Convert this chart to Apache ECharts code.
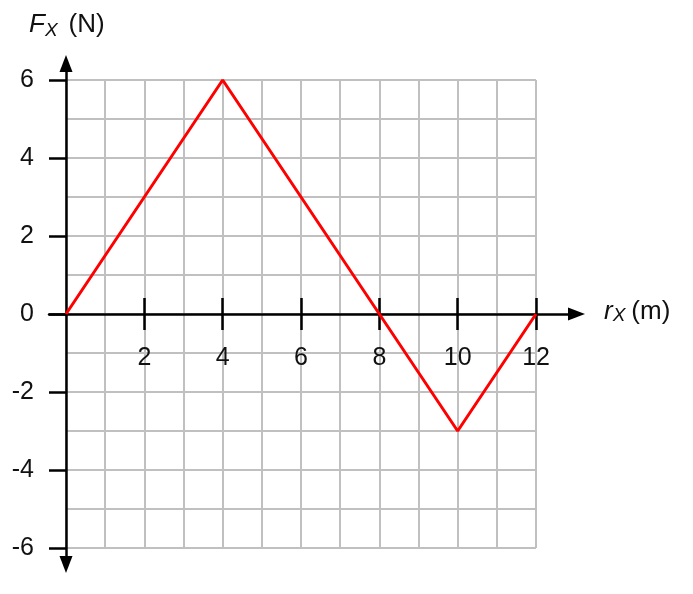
<!DOCTYPE html>
<html>
<head>
<meta charset="utf-8">
<script src="https://cdn.jsdelivr.net/npm/echarts@6/dist/echarts.min.js"></script>
<style>html,body{margin:0;padding:0;background:#fff}#c{width:693px;height:594px}</style>
</head>
<body>
<div id="c"></div>
<script>
// Data
var rValues = [0, 4, 8, 10, 12];
var fValues = [0, 6, 0, -3, 0];
var xTickLabels = [2, 4, 6, 8, 10, 12];
var yTickLabels = [-6, -4, -2, 0, 2, 4, 6];

var FONT = "'Liberation Sans', Arial, Helvetica, sans-serif";
var chart = echarts.init(document.getElementById('c'));

var W = 693, H = 594;
var ux = 39.17, uy = 39;
var x0px = 66, y0px = 314;
// triangle symbols are centred on the axis end, so ends sit half an arrow inside the tips
var axLeftPx = 49, axRightPx = 576.5, axTopPx = 63.5, axBotPx = 564.5;
var xMinExt = -(x0px - axLeftPx) / ux, xMaxExt = (axRightPx - x0px) / ux;
var yMinExt = -(axBotPx - y0px) / uy, yMaxExt = (y0px - axTopPx) / uy;

var points = rValues.map(function (r, i) { return [r, fValues[i]]; });

function hiddenAxis(gi) {
  return { gridIndex: gi, type: 'value', show: false, min: 0, max: 1 };
}
var noBounds = { outerBoundsMode: 'none', containLabel: false };

function richTitle(subPad, gapPad) {
  return {
    fontWeight: 'normal',
    rich: {
      i: { fontFamily: FONT, fontSize: 26, fontStyle: 'italic', fontWeight: 'normal', color: '#111' },
      s: { fontFamily: FONT, fontSize: 19, fontStyle: 'italic', fontWeight: 'normal', color: '#111', padding: [subPad, 0, 0, 0] },
      n: { fontFamily: FONT, fontSize: 26, fontWeight: 'normal', color: '#111', padding: [0, 0, 0, gapPad] }
    }
  };
}

chart.setOption({
  animation: false,
  backgroundColor: '#fff',
  title: [
    { left: 24, top: 4, text: '{i|F}{s|X} {n|(N)}', textStyle: richTitle(12, 6) },
    { left: 599, top: 293, text: '{i|r}{s|X} {n|(m)}', textStyle: richTitle(8, 1) }
  ],
  grid: [
    Object.assign({ left: 66, right: W - 536, top: 80, bottom: H - 548 }, noBounds),
    Object.assign({ left: axLeftPx, right: W - axRightPx, top: y0px - 40, bottom: H - y0px }, noBounds),
    Object.assign({ left: axLeftPx, right: W - axRightPx, top: y0px, bottom: H - y0px - 40 }, noBounds),
    Object.assign({ left: x0px, right: W - x0px - 40, top: axTopPx, bottom: H - axBotPx }, noBounds)
  ],
  xAxis: [
    {
      gridIndex: 0, type: 'value', min: 0, max: 12, interval: 1,
      axisLine: { show: false }, axisTick: { show: false }, axisLabel: { show: false },
      splitLine: { show: true, lineStyle: { color: '#c0c0c0', width: 2 } }
    },
    {
      gridIndex: 1, type: 'value', position: 'bottom', min: xMinExt, max: xMaxExt,
      axisLine: { show: true, onZero: false, symbol: ['none', 'triangle'], symbolSize: [13, 17],
        lineStyle: { color: '#000', width: 2.5 } },
      axisTick: { show: true, inside: false, length: 16, customValues: xTickLabels,
        lineStyle: { color: '#000', width: 2.5 } },
      axisLabel: { show: true, customValues: xTickLabels, margin: 32,
        fontFamily: FONT, fontSize: 25, color: '#111' },
      splitLine: { show: false }
    },
    {
      gridIndex: 2, type: 'value', position: 'top', min: xMinExt, max: xMaxExt,
      axisLine: { show: false, onZero: false },
      axisTick: { show: true, inside: false, length: 16, customValues: xTickLabels,
        lineStyle: { color: '#000', width: 2.5 } },
      axisLabel: { show: false },
      splitLine: { show: false }
    },
    hiddenAxis(3)
  ],
  yAxis: [
    {
      gridIndex: 0, type: 'value', min: -6, max: 6, interval: 1,
      axisLine: { show: false }, axisTick: { show: false }, axisLabel: { show: false },
      splitLine: { show: true, lineStyle: { color: '#c0c0c0', width: 2 } }
    },
    hiddenAxis(1),
    hiddenAxis(2),
    {
      gridIndex: 3, type: 'value', position: 'left', min: yMinExt, max: yMaxExt,
      axisLine: { show: true, onZero: false, symbol: ['triangle', 'triangle'], symbolSize: [13, 17],
        lineStyle: { color: '#000', width: 2.5 } },
      axisTick: { show: true, inside: false, length: 17, customValues: yTickLabels,
        lineStyle: { color: '#000', width: 2.5 } },
      axisLabel: { show: true, customValues: yTickLabels, margin: 32,
        fontFamily: FONT, fontSize: 25, color: '#111' },
      splitLine: { show: false }
    }
  ],
  series: [
    {
      type: 'line', xAxisIndex: 0, yAxisIndex: 0,
      data: points, showSymbol: false, symbol: 'none',
      lineStyle: { color: '#ff0000', width: 3 },
      z: 10
    }
  ]
});
</script>
</body>
</html>
